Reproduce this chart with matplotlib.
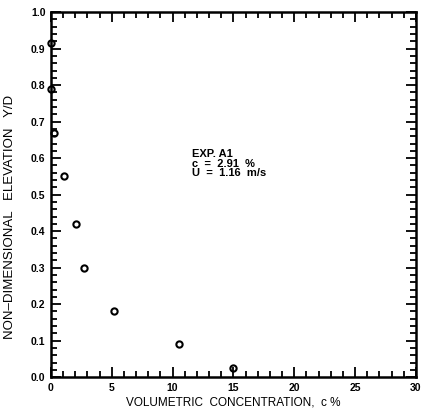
import matplotlib
matplotlib.use('Agg')
import matplotlib.pyplot as plt
from matplotlib.ticker import MultipleLocator

# measured profile, exp. A1
conc = [0.0, 0.0, 0.25, 1.1, 2.1, 2.7, 5.2, 10.5, 15.0]
elev = [0.915, 0.79, 0.67, 0.55, 0.42, 0.30, 0.18, 0.09, 0.025]

x_ticks = [0, 5, 10, 15, 20, 25, 30]
y_ticks = [0.0, 0.1, 0.2, 0.3, 0.4, 0.5, 0.6, 0.7, 0.8, 0.9, 1.0]

plt.rcParams['font.family'] = ['Liberation Sans', 'DejaVu Sans']
plt.rcParams['font.weight'] = 'bold'

fig = plt.figure(figsize=(4.21, 4.19), dpi=100)
ax = fig.add_axes([0.121, 0.100, 0.867, 0.871])

ax.plot(conc, elev, linestyle='none', marker='o', markersize=4.5,
        markerfacecolor='white', markeredgecolor='black', markeredgewidth=1.5,
        clip_on=False, zorder=1.5)

ax.set_xlim(0, 30)
ax.set_ylim(0, 1.0)
ax.set_xticks(x_ticks)
ax.set_xticklabels([str(v) for v in x_ticks])
ax.set_yticks(y_ticks)
ax.set_yticklabels(['%.1f' % v for v in y_ticks])
ax.xaxis.set_minor_locator(MultipleLocator(1))
ax.yaxis.set_minor_locator(MultipleLocator(0.02))

ax.tick_params(which='both', direction='in', top=True, right=True,
               width=1.3, labelsize=7.5, pad=4)
ax.tick_params(which='major', length=7)
ax.tick_params(which='minor', length=4)
for sp in ax.spines.values():
    sp.set_linewidth(1.8)

ax.set_xlabel('VOLUMETRIC  CONCENTRATION,  c %', fontsize=8.5, labelpad=3)
ax.set_ylabel('NON\u2013DIMENSIONAL   ELEVATION   Y/D', fontsize=9.5, labelpad=2)
ax.yaxis.set_label_coords(-0.095, 0.44)

ax.text(11.6, 0.625, 'EXP. A1\nc  =  2.91  %\nU  =  1.16  m/s',
        fontsize=8, va='top', ha='left', linespacing=0.95)

fig.savefig('out.png', dpi=100)
